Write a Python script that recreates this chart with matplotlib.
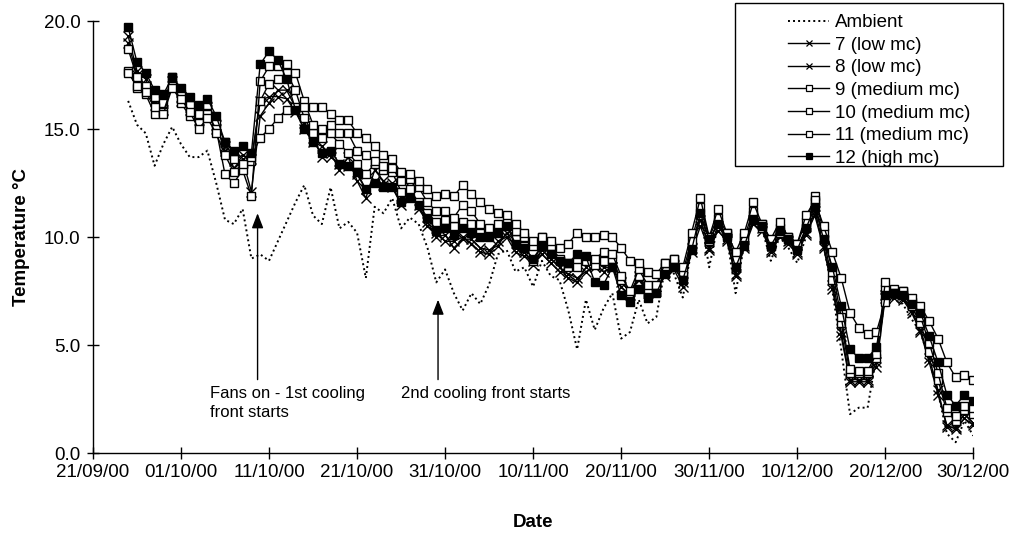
import numpy as np
import pandas as pd
import matplotlib
matplotlib.use("Agg")
import matplotlib.pyplot as plt
import matplotlib.dates as mdates
from matplotlib.lines import Line2D
from matplotlib.patches import Rectangle

plt.rcParams['font.family'] = ['Liberation Sans', 'DejaVu Sans']

# daily readings, 25/09/00 .. 30/12/00
dates = pd.date_range("2000-09-25", periods=97, freq="D")

ambient = [16.3, 15.2, 14.8, 13.3, 14.3, 15.1, 14.3, 13.7, 13.7, 14.0, 12.5, 10.8, 10.6, 11.3, 9.0,
           9.2, 8.9, 9.8, 10.7, 11.6, 12.4, 11.0, 10.6, 12.3, 10.4, 10.7, 10.2, 8.1, 11.4, 11.1,
           11.8, 10.4, 10.9, 10.6, 9.5, 7.9, 8.5, 7.4, 6.6, 7.4, 6.9, 7.8, 9.2, 9.4, 8.4,
           8.6, 7.7, 8.9, 8.2, 8.0, 6.6, 4.8, 7.1, 5.7, 6.7, 7.4, 5.3, 5.6, 7.1, 6.0,
           6.3, 8.6, 8.3, 7.2, 9.4, 11.1, 8.6, 10.6, 10.0, 7.4, 9.7, 10.8, 10.4, 8.9, 10.0,
           9.5, 8.8, 10.0, 11.2, 9.6, 7.5, 4.8, 1.8, 2.1, 2.1, 4.5, 7.3, 7.1, 6.9, 6.2,
           5.6, 4.3, 2.8, 0.9, 0.5, 1.5, 0.8]

bin7 = [19.3, 17.7, 17.3, 16.1, 15.9, 17.2, 16.5, 15.9, 15.6, 16.0, 15.0, 14.2, 13.2, 13.6, 12.1,
        15.6, 16.2, 16.8, 16.8, 16.0, 15.3, 14.6, 13.7, 13.9, 13.1, 13.7, 12.6, 11.8, 13.1, 12.6,
        12.3, 11.5, 12.3, 11.3, 10.7, 10.0, 10.1, 9.5, 9.9, 9.9, 9.5, 9.4, 9.6, 10.2, 9.5,
        9.3, 8.7, 9.4, 9.0, 8.6, 8.1, 7.9, 8.6, 8.8, 8.6, 8.6, 7.7, 7.3, 8.2, 7.4,
        7.5, 8.4, 8.7, 7.9, 9.5, 10.8, 9.5, 10.5, 9.9, 8.2, 9.6, 10.8, 10.4, 9.4, 10.1,
        9.8, 9.3, 10.2, 11.2, 9.6, 7.8, 5.6, 3.4, 3.4, 3.4, 4.2, 7.3, 7.3, 7.2, 6.6,
        5.7, 4.4, 2.9, 1.2, 1.2, 1.8, 1.4]

bin8 = [19.0, 17.5, 17.0, 16.3, 16.2, 17.0, 16.3, 16.0, 15.4, 15.9, 15.2, 14.0, 13.5, 13.8, 13.6,
        16.3, 16.5, 16.5, 16.4, 15.8, 15.0, 14.4, 14.2, 13.7, 13.4, 13.3, 12.9, 12.2, 12.6, 12.4,
        12.5, 11.8, 11.9, 11.5, 10.5, 10.2, 9.8, 9.8, 10.0, 9.7, 9.3, 9.2, 9.8, 10.0, 9.3,
        9.1, 8.9, 9.2, 8.8, 8.4, 8.3, 8.1, 8.4, 8.6, 8.4, 8.6, 7.9, 7.5, 8.0, 7.5,
        7.6, 8.2, 8.5, 7.7, 9.3, 10.5, 9.4, 10.3, 9.8, 8.3, 9.5, 10.6, 10.3, 9.3, 10.0,
        9.7, 9.2, 10.1, 11.0, 9.5, 7.6, 5.4, 3.3, 3.3, 3.3, 4.0, 7.2, 7.2, 7.1, 6.5,
        5.6, 4.2, 2.7, 1.3, 1.1, 1.6, 1.3]

bin9 = [18.7, 17.4, 17.0, 16.5, 16.2, 17.4, 16.6, 16.1, 15.7, 16.1, 15.3, 14.4, 13.6, 13.4, 13.5,
        16.3, 17.1, 17.3, 17.6, 16.8, 15.5, 14.8, 14.6, 14.8, 14.3, 13.9, 13.4, 12.9, 13.4, 13.1,
        13.0, 12.1, 12.2, 11.6, 11.1, 10.7, 10.8, 10.5, 10.7, 10.6, 10.2, 10.2, 10.3, 10.5, 9.9,
        9.6, 8.9, 9.6, 9.3, 8.9, 8.6, 8.9, 9.0, 8.7, 8.9, 9.0, 8.0, 7.4, 8.2, 7.6,
        7.7, 8.6, 8.8, 8.2, 9.6, 11.0, 9.8, 10.7, 10.1, 8.8, 9.8, 11.0, 10.4, 9.6, 10.2,
        9.9, 9.5, 10.4, 11.6, 9.9, 8.0, 6.0, 3.7, 3.7, 3.7, 4.4, 7.6, 7.4, 7.4, 6.8,
        6.0, 4.7, 3.4, 1.9, 1.5, 2.0, 1.8]

bin10 = [17.7, 16.9, 16.6, 15.7, 15.8, 17.0, 16.2, 15.6, 15.3, 15.7, 15.0, 12.9, 12.5, 13.1, 11.9,
         17.2, 17.9, 17.9, 18.0, 17.6, 16.3, 15.2, 15.0, 15.2, 14.8, 14.8, 14.0, 13.8, 13.5, 13.3,
         13.2, 12.6, 12.7, 12.3, 11.6, 11.2, 11.2, 10.9, 11.5, 11.2, 10.6, 10.4, 10.6, 10.7, 10.3,
         10.0, 9.6, 10.0, 9.6, 9.0, 8.8, 8.6, 8.9, 9.0, 9.3, 9.2, 8.2, 7.5, 8.5, 7.8,
         7.8, 8.8, 9.0, 8.4, 9.8, 11.4, 10.0, 10.9, 10.2, 9.0, 10.0, 11.2, 10.6, 9.8, 10.4,
         10.0, 9.7, 10.7, 11.9, 10.2, 8.4, 6.3, 3.9, 3.8, 3.8, 4.6, 7.9, 7.6, 7.5, 7.0,
         6.3, 5.1, 3.7, 2.1, 1.7, 2.2, 2.1]

bin11 = [17.6, 17.0, 16.7, 16.0, 15.7, 16.9, 16.4, 15.8, 15.0, 15.5, 14.8, 13.8, 13.0, 13.4, 13.7,
         14.6, 15.0, 15.5, 15.9, 16.0, 16.0, 16.0, 16.0, 15.7, 15.4, 15.4, 14.8, 14.6, 14.2, 13.8,
         13.6, 13.0, 12.9, 12.6, 12.2, 11.9, 12.0, 11.9, 12.4, 12.0, 11.6, 11.3, 11.1, 11.0, 10.6,
         10.2, 9.8, 10.0, 9.8, 9.5, 9.7, 10.2, 10.0, 10.0, 10.1, 10.0, 9.5, 8.9, 8.8, 8.4,
         8.3, 8.8, 9.0, 8.6, 10.2, 11.8, 10.0, 11.3, 10.2, 9.3, 10.2, 11.6, 10.6, 9.9, 10.7,
         10.0, 9.7, 11.0, 11.7, 10.5, 9.3, 8.1, 6.5, 5.8, 5.5, 5.6, 7.0, 7.4, 7.5, 7.2,
         6.8, 6.1, 5.3, 4.2, 3.5, 3.6, 3.4]

bin12 = [19.7, 18.1, 17.6, 16.8, 16.6, 17.4, 16.9, 16.5, 16.1, 16.4, 15.6, 14.4, 14.0, 14.2, 13.9,
         18.0, 18.6, 18.2, 17.3, 15.9, 15.0, 14.4, 13.9, 14.0, 13.4, 13.3, 13.0, 12.2, 12.5, 12.3,
         12.3, 11.6, 11.8, 11.5, 10.9, 10.3, 10.4, 10.1, 10.4, 10.2, 10.0, 10.0, 10.2, 10.5, 9.7,
         9.5, 9.0, 9.6, 9.2, 8.9, 8.8, 9.2, 9.1, 7.9, 7.8, 8.6, 7.3, 7.0, 7.6, 7.2,
         7.4, 8.3, 8.6, 8.0, 9.4, 11.1, 9.9, 10.6, 10.0, 8.6, 9.6, 10.8, 10.5, 9.6, 10.3,
         9.9, 9.4, 10.4, 11.4, 9.9, 8.6, 6.8, 4.8, 4.4, 4.4, 4.9, 7.3, 7.4, 7.3, 6.9,
         6.5, 5.4, 4.2, 2.7, 2.2, 2.7, 2.4]

labels = ["Ambient", "7 (low mc)", "8 (low mc)", "9 (medium mc)",
          "10 (medium mc)", "11 (medium mc)", "12 (high mc)"]

start = pd.Timestamp("2000-09-21")
end = pd.Timestamp("2000-12-30")

# annotation positions (days after 21/09, temperature)
fans_on_day, fans_on_tip = 18.7, 11.1
front2_day, front2_tip = 39.2, 7.1
arrow_base = 3.4

fig = plt.figure(figsize=(10.17, 5.33), dpi=100)
ax = fig.add_axes([0.0914, 0.150, 0.8656, 0.8106])

ax.plot(dates, ambient, color="black", lw=1.4, ls=(0, (1, 1.6)))
styles = [
    (bin7, "x", "black"),
    (bin8, "x", "black"),
    (bin9, "s", "white"),
    (bin10, "s", "white"),
    (bin11, "s", "white"),
    (bin12, "s", "black"),
]
for vals, mk, face in styles:
    ax.plot(dates, vals, color="black", lw=1.0, marker=mk, ms=6.2 if mk == "s" else 6.5,
            mfc=face, mec="black", mew=1.0)

ax.set_xlim(start, end)
ax.set_ylim(0, 20)
ax.set_yticks([0, 5, 10, 15, 20])
ax.yaxis.set_major_formatter(matplotlib.ticker.FormatStrFormatter("%.1f"))
ax.set_xticks(pd.date_range(start, end, freq="10D"))
ax.xaxis.set_major_formatter(mdates.DateFormatter("%d/%m/%y"))

for s in ["top", "right"]:
    ax.spines[s].set_visible(False)
for s in ["left", "bottom"]:
    ax.spines[s].set_linewidth(1.0)
ax.tick_params(axis="both", direction="inout", length=8, width=1.0, labelsize=13.5)
ax.tick_params(axis="y", pad=5)
ax.tick_params(axis="x", pad=4)

ax.set_ylabel("Temperature °C", fontsize=13.5, fontweight="bold", labelpad=10)
ax.set_xlabel("Date", fontsize=13.5, fontweight="bold", labelpad=24)

# arrows and notes
for day, tip in [(fans_on_day, fans_on_tip), (front2_day, front2_tip)]:
    x = start + pd.Timedelta(days=day)
    ax.annotate("", xy=(x, tip), xytext=(x, arrow_base),
                arrowprops=dict(arrowstyle="-|>,head_length=0.9,head_width=0.35",
                                color="black", lw=1.0, shrinkA=0, shrinkB=0))
ax.text(start + pd.Timedelta(days=13.3), 3.1, "Fans on - 1st cooling\nfront starts",
        fontsize=12, va="top", ha="left", linespacing=1.3)
ax.text(start + pd.Timedelta(days=35.0), 3.1, "2nd cooling front starts",
        fontsize=12, va="top", ha="left")

# legend
handles = [Line2D([], [], color="black", lw=1.4, ls=(0, (1, 1.6)))]
for vals, mk, face in styles:
    handles.append(Line2D([], [], color="black", lw=1.0, marker=mk, ms=4 if mk == "s" else 4.5,
                          mfc=face, mec="black", mew=0.9))
fig.legend(handles, labels, loc="upper left", bbox_to_anchor=(775 / 1017, 1 - 1 / 533),
           frameon=False, fontsize=13.5, handlelength=2.2, handletextpad=0.3,
           labelspacing=0.29, borderpad=0.2)
fig.patches.append(Rectangle((735 / 1017, 1 - 166 / 533), 268 / 1017, 163 / 533,
                             transform=fig.transFigure, fill=False, ec="black", lw=1.0))

fig.savefig("out.png", dpi=100)
